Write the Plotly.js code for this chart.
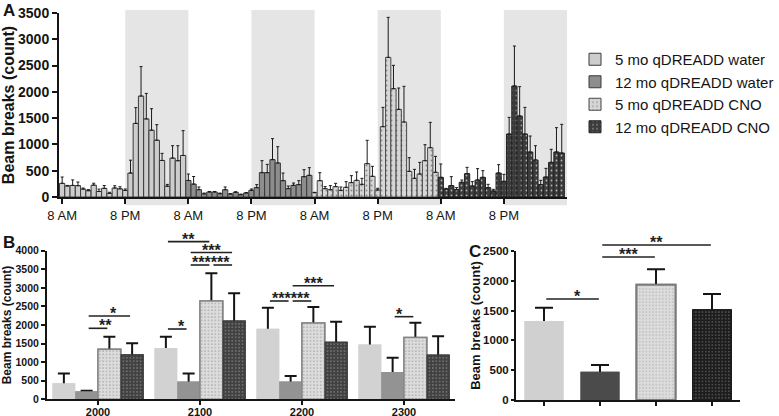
<!DOCTYPE html>
<html><head><meta charset="utf-8">
<script src="https://cdn.plot.ly/plotly-3.0.1.min.js"></script>
<style>html,body{margin:0;padding:0;background:#fff;}#chart{width:779px;height:416px;}</style>
</head><body><div id="chart"></div>
<script>
// ---------- data ----------
const seriesNames = ['5 mo qDREADD water', '12 mo qDREADD water', '5 mo qDREADD CNO', '12 mo qDREADD CNO'];
const timeTickLabels = ['8 AM', '8 PM', '8 AM', '8 PM', '8 AM', '8 PM', '8 AM', '8 PM'];

// Panel A: hourly means (24 h per group, starting 8 AM) and upper SEM
const a5moWater = [260, 210, 220, 215, 150, 120, 225, 105, 165, 70, 170, 155, 125, 455, 1400, 1920, 1485, 1270, 1080, 695, 205, 740, 690, 790];
const a5moWaterErr = [120, 10, 105, 70, 20, 20, 37, 45, 53, 20, 44, 40, 27, 245, 300, 560, 485, 410, 296, 135, 35, 236, 286, 472];
const a12moWater = [315, 245, 139, 60, 95, 95, 63, 139, 57, 89, 44, 76, 127, 178, 463, 463, 710, 647, 311, 159, 222, 235, 387, 412];
const a12moWaterErr = [122, 145, 51, 15, 10, 10, 12, 51, 8, 11, 11, 9, 25, 57, 228, 158, 400, 310, 145, 50, 44, 76, 133, 146];
const a5moCNO = [82, 311, 158, 139, 197, 127, 184, 273, 317, 241, 634, 393, 133, 1338, 2656, 2060, 1667, 1426, 488, 355, 437, 691, 938, 469];
const a5moCNOErr = [7, 152, 39, 77, 63, 63, 108, 133, 159, 114, 444, 190, 32, 367, 761, 444, 406, 679, 260, 171, 222, 304, 482, 304];
const a12moCNO = [374, 152, 216, 139, 279, 444, 209, 323, 374, 178, 114, 456, 298, 1198, 2111, 1541, 1198, 856, 704, 235, 380, 659, 856, 837];
const a12moCNOErr = [254, 13, 171, 39, 44, 120, 83, 216, 127, 63, 32, 159, 133, 317, 761, 558, 507, 304, 272, 82, 165, 248, 463, 545];

// Panel B: hour bins
const bCategories = ['2000', '2100', '2200', '2300'];
const b5moWater = [429, 1384, 1902, 1473];
const b5moWaterErr = [267, 303, 562, 482];
const b12moWater = [214, 482, 482, 732];
const b12moWaterErr = [18, 214, 143, 384];
const b5moCNO = [1348, 2643, 2054, 1661];
const b5moCNOErr = [339, 750, 428, 402];
const b12moCNO = [1205, 2116, 1545, 1196];
const b12moCNOErr = [304, 741, 544, 500];

// Panel C: totals
const cValues = [1325, 475, 1935, 1515];
const cErr = [224, 112, 258, 264];

// significance comparisons: [category, barFrom, barTo, yLevel, stars]
const bSig = [
  [0, 1, 2, 1911, '**'], [0, 1, 3, 2242, '*'],
  [1, 0, 1, 1892, '*'], [1, 0, 2, 4243, '**'], [1, 1, 3, 3950, '***'],
  [1, 1, 2, 3615, '***'], [1, 2, 3, 3615, '***'],
  [2, 0, 1, 2646, '***'], [2, 1, 2, 2646, '***'], [2, 1, 3, 3058, '***'],
  [3, 1, 2, 2224, '*']
];
const cSig = [[0, 1, 1695, '*'], [1, 2, 2399, '***'], [1, 3, 2601, '**']];

// ---------- layout helpers ----------
const W = 779, H = 416;
const fx = v => v / W, fy = v => 1 - v / H;
const FONT = 'Liberation Sans, Arial, sans-serif';
const INK = '#151515';

const styles = [
  {color: '#cdcdcd', line: '#3a3a3a', pattern: null},
  {color: '#8d8d8d', line: '#3a3a3a', pattern: null},
  {color: '#d6d6d6', line: '#4a4a4a', pattern: {shape: '.', bgcolor: '#d6d6d6', fgcolor: '#8a8a8a', size: 5, solidity: 0.12}},
  {color: '#3c3c3c', line: '#222222', pattern: {shape: '.', bgcolor: '#3c3c3c', fgcolor: '#b4b4b4', size: 5, solidity: 0.1}}
];

const aVals = [a5moWater, a12moWater, a5moCNO, a12moCNO];
const aErrs = [a5moWaterErr, a12moWaterErr, a5moCNOErr, a12moCNOErr];
const xRangeA = [-0.6, 96];

const traces = [];
aVals.forEach((vals, g) => {
  const st = styles[g];
  const marker = {color: st.color, line: {color: st.line, width: 1}};
  if (st.pattern) marker.pattern = st.pattern;
  traces.push({
    type: 'bar', name: seriesNames[g], xaxis: 'x', yaxis: 'y',
    x: vals.map((_, h) => g * 24 + h), y: vals, width: 1,
    marker: marker,
    error_y: {type: 'data', symmetric: false, array: aErrs[g], arrayminus: vals.map(() => 0),
              color: '#1a1a1a', thickness: 1, width: 1.5},
    showlegend: true, hoverinfo: 'skip'
  });
});

// Panel B bars
const bVals = [b5moWater, b12moWater, b5moCNO, b12moCNO];
const bErrs = [b5moWaterErr, b12moWaterErr, b5moCNOErr, b12moCNOErr];
const bW = 0.223;
const bStyles = [
  {color: '#d2d2d2', line: {width: 0, color: '#d2d2d2'}},
  {color: '#939393', line: {width: 0, color: '#939393'}},
  {color: '#dcdcdc', line: {width: 1.5, color: '#858585'}, pattern: {shape: '.', bgcolor: '#dcdcdc', fgcolor: '#9a9a9a', size: 3.4, solidity: 0.14}},
  {color: '#414141', line: {width: 0.5, color: '#333333'}, pattern: {shape: '.', bgcolor: '#414141', fgcolor: '#a8a8a8', size: 3.4, solidity: 0.12}}
];
function mk(s) {
  const m = {color: s.color, line: s.line};
  if (s.pattern) m.pattern = s.pattern;
  return m;
}
const bx = bCategories.map((_, i) => i);
[true, false].forEach(withErr => {
  bVals.forEach((vals, k) => {
    const t = {
      type: 'bar', xaxis: 'x2', yaxis: 'y2', x: bx, y: vals,
      width: bW, offset: (k - 2) * bW, marker: mk(bStyles[k]),
      name: seriesNames[k], showlegend: false, hoverinfo: 'skip'
    };
    if (withErr) t.error_y = {type: 'data', symmetric: true, array: bErrs[k], color: INK, thickness: 2, width: 6};
    traces.push(t);
  });
});

// Panel C bars (one bar per group)
const cW = 0.696;
const cStyles = [
  {color: '#d0d0d0', line: {width: 0, color: '#d0d0d0'}},
  {color: '#4b4b4b', line: {width: 0, color: '#4b4b4b'}},
  {color: '#dcdcdc', line: {width: 2, color: '#7a7a7a'}, pattern: {shape: '.', bgcolor: '#dcdcdc', fgcolor: '#a4a4a4', size: 3.3, solidity: 0.12}},
  {color: '#1d1d1d', line: {width: 1, color: '#1d1d1d'}, pattern: {shape: '.', bgcolor: '#1d1d1d', fgcolor: '#8a8a8a', size: 3.3, solidity: 0.12}}
];
[true, false].forEach(withErr => {
  cValues.forEach((v, k) => {
    const t = {
      type: 'bar', xaxis: 'x3', yaxis: 'y3', x: [k], y: [v],
      width: cW, offset: -cW / 2, marker: mk(cStyles[k]), name: seriesNames[k],
      showlegend: false, hoverinfo: 'skip'
    };
    if (withErr) t.error_y = {type: 'data', symmetric: true, array: [cErr[k]], color: INK, thickness: 2, width: 9};
    traces.push(t);
  });
});

// ---------- shapes & annotations ----------
const shapes = [];
const annotations = [];
const toDomA = v => (v - xRangeA[0]) / (xRangeA[1] - xRangeA[0]);
[12, 36, 60, 84].forEach(s => {
  shapes.push({type: 'rect', xref: 'x domain', yref: 'y domain', layer: 'below',
    x0: toDomA(s), x1: toDomA(s + 12), y0: -0.045, y1: 1.016,
    fillcolor: '#e5e5e5', line: {width: 0}});
});

function starText(xref, yref, x, y, stars) {
  annotations.push({xref: xref, yref: yref, x: x, y: y, text: stars, showarrow: false,
    yanchor: 'bottom', valign: 'top', height: 10, yshift: 0, borderpad: 0,
    font: {family: FONT, size: 16, color: '#222', weight: 'bold'}});
}
function sigLine(xref, yref, x0, x1, y) {
  shapes.push({type: 'line', xref: xref, yref: yref, x0: x0, x1: x1, y0: y, y1: y,
    line: {color: '#222', width: 1.6}});
}
// B: adjacent comparisons at the same height share one run of stars
const bLines = bSig.map(([cat, a, b, y, st]) => {
  const ca = cat + (a - 1.5) * bW + 0.02, cb = cat + (b - 1.5) * bW - 0.02;
  return {cat, a, b, y, st, x0: (ca + 0.5) / 4, x1: (cb + 0.5) / 4};
});
const used = new Set();
bLines.forEach((L, i) => {
  sigLine('x2 domain', 'y2 domain', L.x0, L.x1, L.y / 4000);
  if (used.has(i)) return;
  const j = bLines.findIndex((M, jj) => jj !== i && M.cat === L.cat && M.y === L.y && M.a === L.b);
  if (j >= 0) {
    used.add(j);
    starText('x2 domain', 'y2 domain', (L.x0 + bLines[j].x1) / 2, L.y / 4000, L.st + bLines[j].st);
  } else {
    starText('x2 domain', 'y2 domain', (L.x0 + L.x1) / 2, L.y / 4000, L.st);
  }
});
cSig.forEach(([a, b, y, st]) => {
  const x0 = (a + 0.04 + 0.5) / 4, x1 = (b - 0.02 + 0.5) / 4;
  sigLine('x3 domain', 'y3 domain', x0, x1, y / 2500);
  starText('x3 domain', 'y3 domain', (x0 + x1) / 2, y / 2500, st);
});

[['A', 2, 0], ['B', 2, 232], ['C', 468, 241]].forEach(([t, x, y]) => {
  annotations.push({xref: 'paper', yref: 'paper', x: fx(x), y: fy(y), xanchor: 'left', yanchor: 'top',
    borderpad: 0, text: '<b>' + t + '</b>', showarrow: false, font: {family: FONT, size: 17, color: INK}});
});

// ---------- axes ----------
const axBase = {showline: true, linecolor: INK, linewidth: 2, ticks: 'outside', ticklen: 5, tickwidth: 2,
  tickcolor: INK, showgrid: false, zeroline: false, fixedrange: true};
const bold = (s) => ({family: FONT, size: s, color: INK, weight: 'bold'});

const layout = {
  width: W, height: 416, margin: {l: 0, r: 0, t: 0, b: 0},
  paper_bgcolor: '#fff', plot_bgcolor: 'rgba(0,0,0,0)',
  barmode: 'overlay', font: {family: FONT, color: INK},
  xaxis: Object.assign({}, axBase, {domain: [fx(59), fx(567)], range: xRangeA, anchor: 'y',
    tickvals: timeTickLabels.map((_, i) => i * 12), ticktext: timeTickLabels,
    tickfont: {family: FONT, size: 13, color: INK}}),
  yaxis: Object.assign({}, axBase, {domain: [fy(197), fy(13)], range: [0, 3500], dtick: 500, anchor: 'x',
    tickfont: bold(14), title: {text: 'Beam breaks (count)', font: bold(16), standoff: 0}}),
  xaxis2: Object.assign({}, axBase, {domain: [fx(47), fx(455)], range: [-0.5, 3.5], anchor: 'y2',
    tickvals: bx, ticktext: bCategories, tickfont: bold(11), ticklen: 4, ticklabelstandoff: -3}),
  yaxis2: Object.assign({}, axBase, {domain: [fy(399.3), fy(250.7)], range: [0, 4000], dtick: 500, anchor: 'x2',
    tickfont: bold(10.5), ticklen: 4, title: {text: 'Beam breaks (count)', font: bold(12), standoff: 3}}),
  xaxis3: Object.assign({}, axBase, {domain: [fx(516), fx(740)], range: [-0.5, 3.5], anchor: 'y3',
    tickvals: [0, 1, 2, 3], showticklabels: false, ticklen: 4}),
  yaxis3: Object.assign({}, axBase, {domain: [fy(400), fy(251)], range: [0, 2500], dtick: 500, anchor: 'x3',
    tickfont: bold(11.5), ticklen: 3, title: {text: 'Beam breaks (count)', font: bold(13), standoff: 0}}),
  legend: {x: fx(575), y: fy(43), xanchor: 'left', yanchor: 'top', font: {family: FONT, size: 15, color: INK},
    bgcolor: 'rgba(0,0,0,0)', tracegroupgap: 0},
  shapes: shapes, annotations: annotations
};

Plotly.newPlot('chart', traces, layout, {staticPlot: true, displayModeBar: false});
</script></body></html>
